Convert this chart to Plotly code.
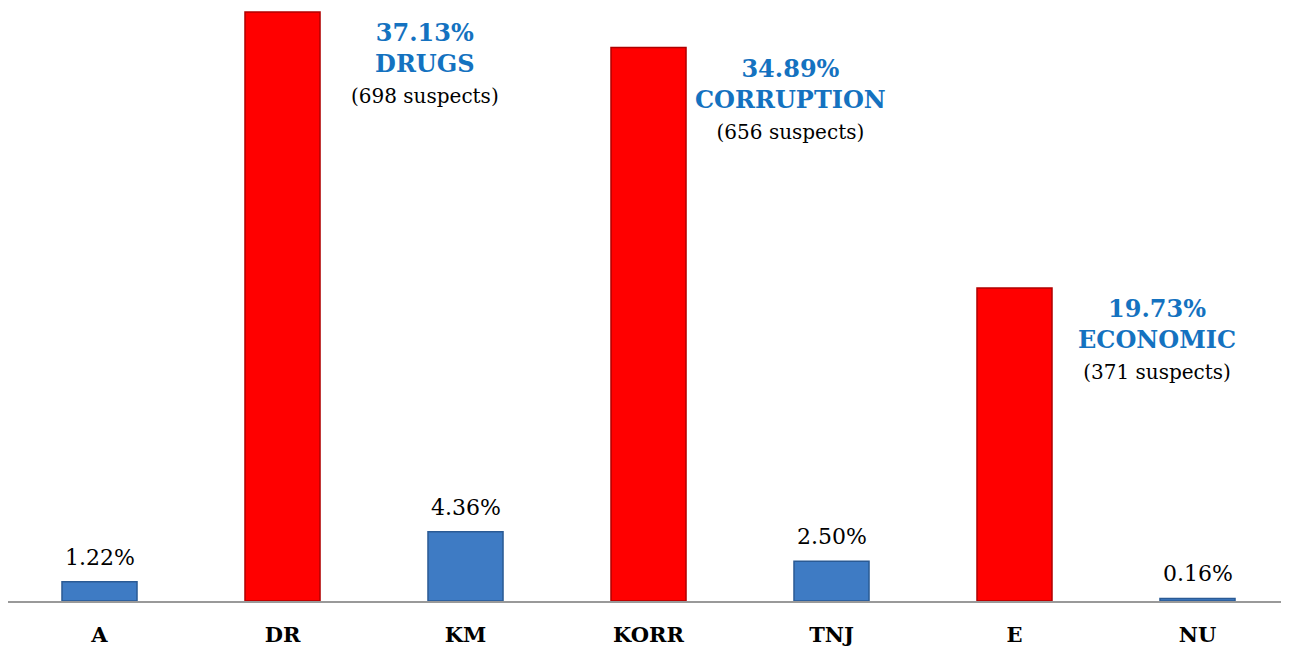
import plotly.graph_objects as go

categories = ['A', 'DR', 'KM', 'KORR', 'TNJ', 'E', 'NU']
shares = [1.22, 37.13, 4.36, 34.89, 2.50, 19.73, 0.16]
highlight = [False, True, False, True, False, True, False]
crime_names = {'DR': 'DRUGS', 'KORR': 'CORRUPTION', 'E': 'ECONOMIC'}
suspects = {'DR': 698, 'KORR': 656, 'E': 371}

serif = 'DejaVu Serif'
colors = ['#FF0000' if h else '#3E7BC4' for h in highlight]
edges = ['#B00000' if h else '#2A5A94' for h in highlight]

fig = go.Figure()
fig.add_trace(go.Bar(x=categories, y=shares, marker=dict(color=colors, line=dict(color=edges, width=1.5)),
                     showlegend=False, hoverinfo='skip'))

for c, v, h in zip(categories, shares, highlight):
    if h:
        txt = ('<b><span style="color:#1472C0">%.2f%%<br>%s</span></b><br>'
               '<span style="font-size:20px">(%d suspects)</span>'
               % (v, crime_names[c], suspects[c]))
        fig.add_annotation(x=c, y=v, text=txt, showarrow=False, xshift=142, yshift=-4,
                           yanchor='top', align='center',
                           font=dict(family=serif, size=24, color='black'))
    else:
        fig.add_annotation(x=c, y=v, text='%.2f%%' % v, showarrow=False, yshift=10,
                           yanchor='bottom', font=dict(family=serif, size=22, color='black'))

# page has an 8px body margin, so the figure is a bit smaller than the window
fig.update_layout(width=1281, height=639, margin=dict(l=0, r=0, t=0, b=42),
                  paper_bgcolor='white', plot_bgcolor='white', bargap=0.59,
                  font=dict(family=serif))
fig.update_xaxes(showline=True, linecolor='#999999', linewidth=1.5, showgrid=False,
                 tickfont=dict(family=serif, size=21, color='black', weight='bold'),
                 ticklabelstandoff=14)
fig.update_yaxes(range=[0, 37.38], visible=False, showgrid=False)

fig.write_html('out.html')
